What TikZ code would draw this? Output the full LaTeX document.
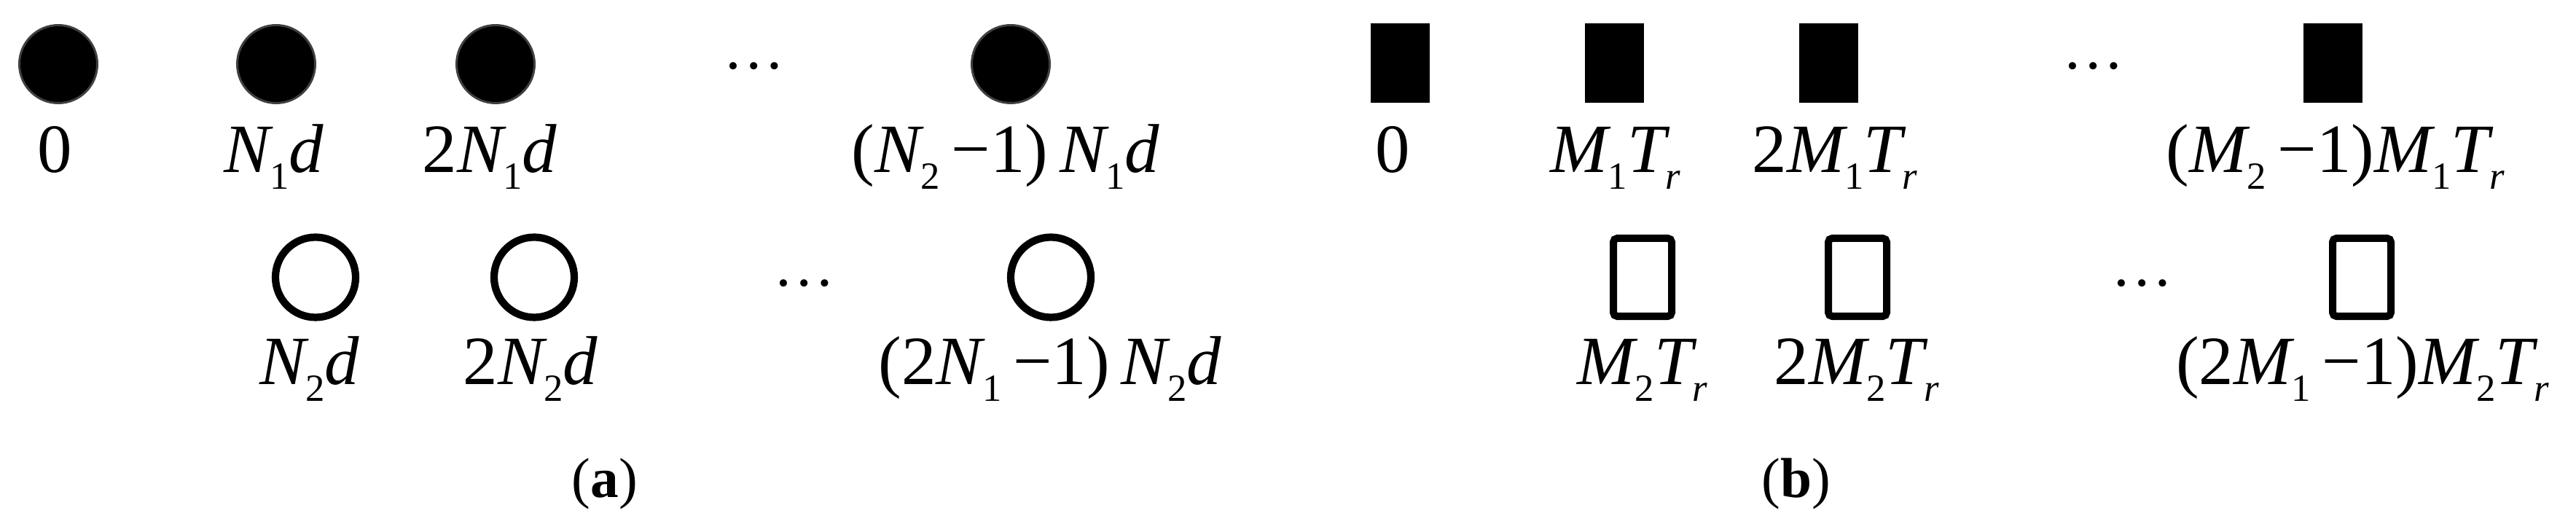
\documentclass[tikz,border=0pt]{standalone}
\usepackage{fontspec}
\setmainfont{Liberation Serif}
\usepackage{tikz}
\usetikzlibrary{shapes,positioning,calc}
\usepackage{xcolor}
\newcommand{\lo}[1]{\raisebox{-6.5pt}{\fontsize{15}{15}\selectfont #1}}
\tikzset{
    fullcirc/.style={draw=black!75, line width=0.85pt, fill=black, circle, inner sep=0pt, minimum size=1.07cm},
    holecirc/.style={draw, line width=2.9pt, circle, inner sep=0pt, minimum size=1.1cm},
    fullrect/.style={fill=black, rectangle, inner sep=0pt, minimum width=0.81cm, minimum height=1.09cm},
    holerect/.style={draw, line width=2.85pt, rectangle, rounded corners=1.5pt, inner sep=0pt, minimum width=0.8cm, minimum height=1.07cm},
    lbl/.style={anchor=base, inner sep=0pt, font=\fontsize{27}{30}\selectfont},
    dotsn/.style={anchor=base, inner sep=0pt, font=\fontsize{24}{30}\selectfont},
    captn/.style={anchor=base, inner sep=0pt, font=\fontsize{22}{26}\selectfont}
}
\begin{document}
\begin{tikzpicture}
    \useasboundingbox (0,0) rectangle (35.35,7.19);
    % (a) filled circles
    \node[fullcirc] (a0) at (0.80,6.31) {};
    \node[fullcirc] (a1) at (3.79,6.31) {};
    \node[fullcirc] (a2) at (6.80,6.31) {};
    \node[dotsn] (adots1) at (10.35,6.24) {\dots};
    \node[fullcirc] (a3) at (13.87,6.31) {};

    \node[lbl] (la0) at (0.75,4.82) {0};
    \node[lbl] (la1) at (3.76,4.82) {{\itshape N}\lo{1}\textit{d}};
    \node[lbl] (la2) at (6.72,4.82) {2{\itshape N}\lo{1}\textit{d}};
    \node[lbl] (la3) at (13.80,4.82) {({\itshape N}\lo{2}\,−1)\,{\itshape N}\lo{1}\textit{d}};

    % (a) hollow circles
    \node[holecirc] (ha1) at (4.33,3.385) {};
    \node[holecirc] (ha2) at (7.33,3.385) {};
    \node[dotsn] (adots2) at (11.04,3.26) {\dots};
    \node[holecirc] (ha3) at (14.42,3.385) {};

    \node[lbl] (lha1) at (4.25,1.91) {{\itshape N}\lo{2}\textit{d}};
    \node[lbl] (lha2) at (7.28,1.91) {2{\itshape N}\lo{2}\textit{d}};
    \node[lbl] (lha3) at (14.41,1.91) {(2{\itshape N}\lo{1}\,−1)\,{\itshape N}\lo{2}\textit{d}};

    \node[captn] (capa) at (8.30,0.36) {(\textbf{a})};

    % (b) filled rectangles
    \node[fullrect] (b0) at (19.21,6.32) {};
    \node[fullrect] (b1) at (22.15,6.32) {};
    \node[fullrect] (b2) at (25.09,6.32) {};
    \node[dotsn] (bdots1) at (28.73,6.24) {\dots};
    \node[fullrect] (b3) at (32.01,6.32) {};

    \node[lbl] (lb0) at (19.11,4.82) {0};
    \node[lbl] (lb1) at (22.17,4.82) {{\itshape M}\lo{1}{\itshape T}\lo{\itshape r}};
    \node[lbl] (lb2) at (25.18,4.82) {2{\itshape M}\lo{1}{\itshape T}\lo{\itshape r}};
    \node[lbl] (lb3) at (32.05,4.82) {({\itshape M}\lo{2}\,−1){\itshape M}\lo{1}{\itshape T}\lo{\itshape r}};

    % (b) hollow rectangles
    \node[holerect] (hb1) at (22.54,3.385) {};
    \node[holerect] (hb2) at (25.49,3.385) {};
    \node[dotsn] (bdots2) at (29.40,3.26) {\dots};
    \node[holerect] (hb3) at (32.41,3.385) {};

    \node[lbl] (lhb1) at (22.54,1.91) {{\itshape M}\lo{2}{\itshape T}\lo{\itshape r}};
    \node[lbl] (lhb2) at (25.48,1.91) {2{\itshape M}\lo{2}{\itshape T}\lo{\itshape r}};
    \node[lbl] (lhb3) at (32.42,1.91) {(2{\itshape M}\lo{1}\,−1){\itshape M}\lo{2}{\itshape T}\lo{\itshape r}};

    \node[captn] (capb) at (24.65,0.36) {(\textbf{b})};
\end{tikzpicture}
\end{document}
